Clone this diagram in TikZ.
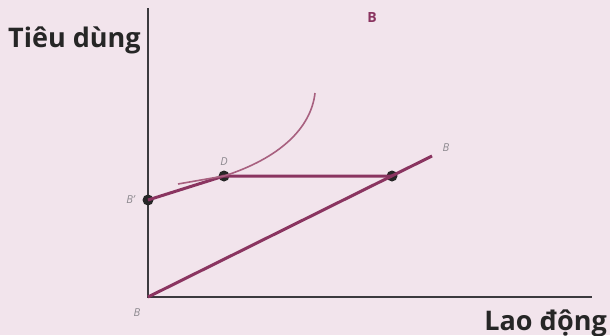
\documentclass[tikz,border=0pt]{standalone}
\usepackage{fontspec}
\setmainfont{Open Sans}
\usetikzlibrary{arrows.meta,calc,positioning}
\definecolor{Blush}{HTML}{F2E4EC}
\definecolor{Plum}{HTML}{8A3460}
\definecolor{Rose}{HTML}{A8607F}
\definecolor{Axis}{HTML}{3C3A3E}
\definecolor{Ghost}{HTML}{8E8A90}

\begin{document}
\begin{tikzpicture}[
  x=1pt,y=-1pt,
  axis/.style={draw=Axis,line width=2.8pt},
  budget/.style={draw=Plum,line width=3pt},
  indiff/.style={draw=Rose,line width=1.6pt},
  dot/.style={circle,fill=black!85,inner sep=0pt,minimum size=11pt},
  tick/.style={font=\itshape\fontsize{11}{13}\selectfont,text=Ghost},
  title/.style={font=\bfseries\fontsize{27}{30}\selectfont,text=black!85}
]
  \fill[Blush] (0,0) rectangle (610,335);
  \useasboundingbox (0,0) rectangle (610,335);
  % axes
  \coordinate (origin) at (148,297);
  \coordinate (top) at (148,8);
  \coordinate (right) at (592,297);
  \draw[axis] (top) -- (origin) -- (right);
  % budget lines
  \node[dot] (bprime) at (148,200) {};
  \node[dot] (tangent) at (224,176) {};
  \node[dot] (corner) at (392,176) {};
  \coordinate (bend) at (432,156);
  \draw[budget] (origin) -- (bend);
  \draw[budget] (bprime.center) -- (tangent.center) -- (corner.center);
  % indifference curve
  \draw[indiff] (178,184) -- (tangent.center) .. controls (280,158) and (311,128) .. (315,93);
  % labels
  \node[title,anchor=base west,inner sep=0pt] (ylabel) at (8,47) {Tiêu dùng};
  \node[title,anchor=base east,inner sep=0pt] (xlabel) at (607,330) {Lao động};
  \node[font=\bfseries\fontsize{14}{16}\selectfont,text=Plum] (head) at (372,18) {B};
  \node[tick,left=4pt of bprime] (lbprime) {B'};
  \node[tick,above=1pt of tangent] (ltangent) {D};
  \node[tick] (lbend) at (446,148) {B};
  \node[tick] (lorigin) at (137,313) {B};
\end{tikzpicture}
\end{document}
